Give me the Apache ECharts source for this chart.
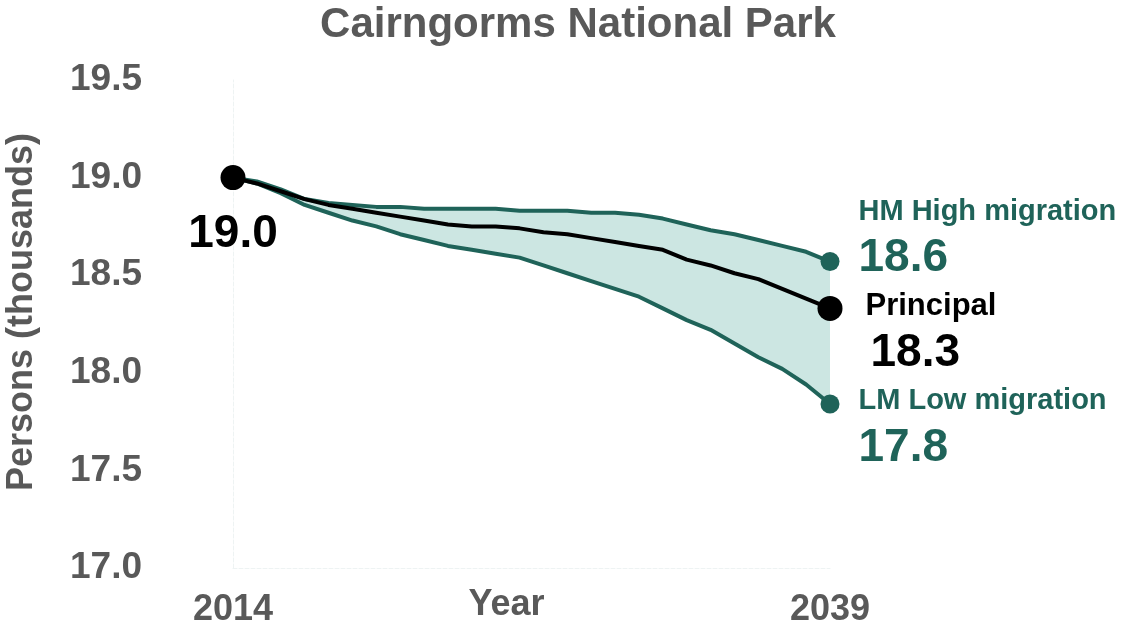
<!DOCTYPE html>
<html>
<head>
<meta charset="utf-8">
<script src="https://cdn.jsdelivr.net/npm/echarts@6/dist/echarts.min.js"></script>
<style>html,body{margin:0;padding:0;background:#fff}#c{width:1132px;height:631px}</style>
</head>
<body>
<div id="c"></div>
<script>
const years = ['2014','2015','2016','2017','2018','2019','2020','2021','2022','2023','2024','2025','2026','2027','2028','2029','2030','2031','2032','2033','2034','2035','2036','2037','2038','2039'];
const principal = [19.00,18.97,18.93,18.89,18.86,18.84,18.82,18.80,18.78,18.76,18.75,18.75,18.74,18.72,18.71,18.69,18.67,18.65,18.63,18.58,18.55,18.51,18.48,18.43,18.38,18.33];
const highMigration = [19.00,18.98,18.94,18.89,18.87,18.86,18.85,18.85,18.84,18.84,18.84,18.84,18.83,18.83,18.83,18.82,18.82,18.81,18.79,18.76,18.73,18.71,18.68,18.65,18.62,18.57];
const lowMigration = [19.00,18.97,18.92,18.86,18.82,18.78,18.75,18.71,18.68,18.65,18.63,18.61,18.59,18.55,18.51,18.47,18.43,18.39,18.33,18.27,18.22,18.15,18.08,18.02,17.94,17.84];
const yTicks = [17.0, 17.5, 18.0, 18.5, 19.0, 19.5];

const TEAL = '#1f6359';
const FILL = '#cce6e2';
const GRAY = '#595959';
const FONT = '"Liberation Sans", Arial, sans-serif';
const last = years.length - 1;

function withEnd(arr, endItem) {
  return arr.map((v, i) => i === last ? Object.assign({ value: v }, endItem) : v);
}

const chart = echarts.init(document.getElementById('c'));
chart.setOption({
  animation: false,
  backgroundColor: '#fff',
  textStyle: { fontFamily: FONT },
  title: {
    text: 'Cairngorms National Park',
    left: 578, top: 4, padding: 0, textAlign: 'center',
    textStyle: { fontFamily: FONT, fontSize: 42, fontWeight: 'bold', color: GRAY }
  },
  grid: { left: 233, right: 302, top: 80, bottom: 63, containLabel: false, outerBoundsMode: 'none' },
  xAxis: {
    type: 'category', data: years, boundaryGap: false,
    name: 'Year', nameLocation: 'middle', nameGap: 19, nameMoveOverlap: false,
    nameTextStyle: { fontFamily: FONT, fontSize: 36, fontWeight: 'bold', color: GRAY, padding: [0, 50, 0, 0] },
    axisLine: { show: true, lineStyle: { color: '#eef3f3', type: 'dashed', width: 1 } },
    axisTick: { show: false },
    axisLabel: {
      interval: (i) => i === 0 || i === last,
      margin: 24, fontFamily: FONT, fontSize: 36, fontWeight: 'bold', color: GRAY
    },
    splitLine: { show: false }
  },
  yAxis: {
    type: 'value', min: yTicks[0], max: yTicks[yTicks.length - 1], interval: 0.5,
    name: 'Persons (thousands)', nameLocation: 'middle', nameGap: 193, nameRotate: 90, nameMoveOverlap: false,
    nameTextStyle: { fontFamily: FONT, fontSize: 36, fontWeight: 'bold', color: GRAY, padding: [0, 0, 0, 24] },
    axisLine: { show: true, lineStyle: { color: '#eef3f3', type: 'dashed', width: 1 } },
    axisTick: { show: false },
    splitLine: { show: false },
    axisLabel: {
      margin: 91, fontFamily: FONT, fontSize: 37, fontWeight: 'bold', color: GRAY,
      formatter: (v) => v.toFixed(1)
    }
  },
  series: [
    {
      name: 'bandBase', type: 'line', stack: 'band', data: lowMigration,
      symbol: 'none', lineStyle: { opacity: 0 }, silent: true, z: 1
    },
    {
      name: 'band', type: 'line', stack: 'band',
      data: highMigration.map((h, i) => +(h - lowMigration[i]).toFixed(4)),
      symbol: 'none', lineStyle: { opacity: 0 }, areaStyle: { color: FILL, opacity: 1 }, silent: true, z: 1
    },
    {
      name: 'HM High migration', type: 'line', symbol: 'circle', symbolSize: 0, showAllSymbol: true,
      itemStyle: { color: TEAL }, lineStyle: { color: TEAL, width: 4 }, z: 3,
      data: withEnd(highMigration, {
        symbolSize: 19,
        label: {
          show: true, position: 'right', distance: 19, offset: [0, -23],
          formatter: (p) => '{a|HM High migration}\n{b|' + p.value.toFixed(1) + '}',
          rich: {
            a: { fontFamily: FONT, fontSize: 29, fontWeight: 'bold', color: TEAL, lineHeight: 40 },
            b: { fontFamily: FONT, fontSize: 46, fontWeight: 'bold', color: TEAL, lineHeight: 54 }
          }
        }
      })
    },
    {
      name: 'LM Low migration', type: 'line', symbol: 'circle', symbolSize: 0, showAllSymbol: true,
      itemStyle: { color: TEAL }, lineStyle: { color: TEAL, width: 4 }, z: 3,
      data: withEnd(lowMigration, {
        symbolSize: 19,
        label: {
          show: true, position: 'right', distance: 19, offset: [0, 24],
          formatter: (p) => '{a|LM Low migration}\n{b|' + p.value.toFixed(1) + '}',
          rich: {
            a: { fontFamily: FONT, fontSize: 29, fontWeight: 'bold', color: TEAL, lineHeight: 40 },
            b: { fontFamily: FONT, fontSize: 46, fontWeight: 'bold', color: TEAL, lineHeight: 54 }
          }
        }
      })
    },
    {
      name: 'Principal', type: 'line', symbol: 'circle', symbolSize: 0, showAllSymbol: true,
      itemStyle: { color: '#000' }, lineStyle: { color: '#000', width: 4 }, z: 4,
      data: principal.map((v, i) => {
        if (i === 0) {
          return { value: v, symbolSize: 25, label: {
            show: true, position: 'bottom', distance: 21,
            formatter: (p) => p.value.toFixed(1),
            fontFamily: FONT, fontSize: 46, fontWeight: 'bold', color: '#000'
          } };
        }
        if (i === last) {
          return { value: v, symbolSize: 25, label: {
            show: true, position: 'right', distance: 23, offset: [0, 25],
            formatter: (p) => '{a|Principal}\n{b|' + p.value.toFixed(1) + '}',
            rich: {
              a: { fontFamily: FONT, fontSize: 31, fontWeight: 'bold', color: '#000', lineHeight: 40 },
              b: { fontFamily: FONT, fontSize: 46, fontWeight: 'bold', color: '#000', lineHeight: 54, padding: [0, 0, 0, 5] }
            }
          } };
        }
        return v;
      })
    }
  ]
});
</script>
</body>
</html>
